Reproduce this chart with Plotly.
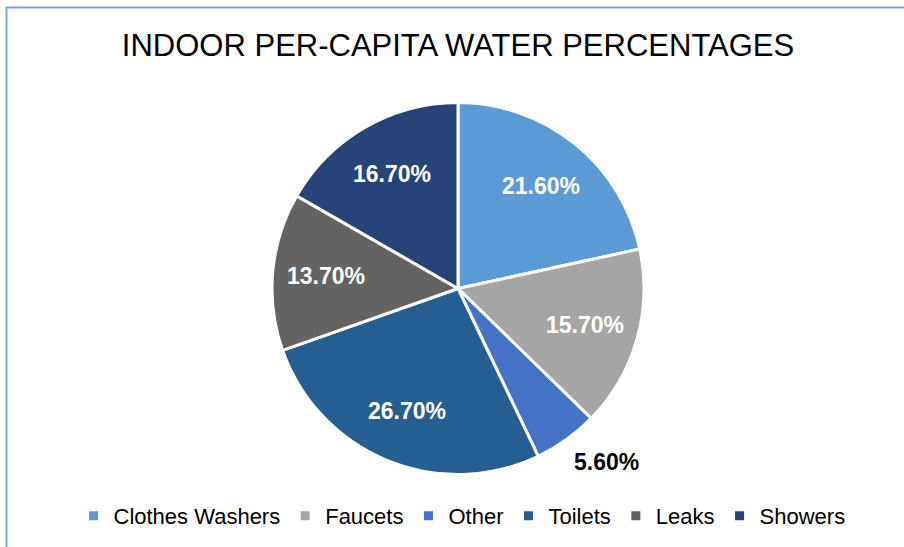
import math
import plotly.graph_objects as go

categories = ["Clothes Washers", "Faucets", "Other", "Toilets", "Leaks", "Showers"]
values = [21.6, 15.7, 5.6, 26.7, 13.7, 16.7]
colors = ["#5B9BD5", "#A5A5A5", "#4472C4", "#255E91", "#636363", "#264478"]
title_text = "INDOOR PER-CAPITA WATER PERCENTAGES"

W, H = 904, 547
cx, cy, R = 458, 288.5, 186
FONT = "Liberation Sans"

total = sum(values)
# small slices get their label outside the pie, the rest inside
is_outside = [v / total < 0.08 for v in values]

fig = go.Figure(go.Pie(
    labels=categories,
    values=values,
    sort=False,
    direction="clockwise",
    rotation=0,
    marker=dict(colors=colors, line=dict(color="white", width=3)),
    textinfo="none",
    domain=dict(x=[(cx - R) / W, (cx + R) / W], y=[1 - (cy + R) / H, 1 - (cy - R) / H]),
    hoverinfo="label+percent",
))

# data labels placed along each slice's mid-angle
annotations = []
cum = 0.0
for v, o in zip(values, is_outside):
    mid = (cum + v / 2) / total * 2 * math.pi
    cum += v
    sx, sy = math.sin(mid), -math.cos(mid)
    if o:
        r = 1.05 * R
        xa = "left" if sx >= 0 else "right"
        ya = "top" if sy >= 0 else "bottom"
        col = "black"
    else:
        r = 0.71 * R
        xa, ya = "center", "middle"
        col = "white"
    px = cx + r * sx
    py = cy + r * sy
    annotations.append(dict(
        x=px / W, y=1 - py / H, xref="paper", yref="paper",
        text=f"{v:.2f}%", showarrow=False, xanchor=xa, yanchor=ya,
        font=dict(family=FONT, size=23, color=col, weight="bold"),
    ))

fig.update_layout(
    width=W, height=H,
    margin=dict(l=0, r=0, t=0, b=0),
    paper_bgcolor="white",
    plot_bgcolor="white",
    title=dict(text=title_text, x=458 / W, xanchor="center", y=1 - 45 / H, yanchor="middle",
               font=dict(family=FONT, size=31, color="black")),
    showlegend=True,
    legend=dict(orientation="h", x=462 / W, xanchor="center", y=1 - 516 / H, yanchor="middle",
                font=dict(family=FONT, size=22, color="black"),
                traceorder="normal"),
    annotations=annotations,
    shapes=[dict(type="rect", xref="paper", yref="paper",
                 x0=6.5 / W, x1=1.1, y0=-0.1, y1=1 - 7.5 / H,
                 line=dict(color="#7AA6DC", width=2), fillcolor="rgba(0,0,0,0)", layer="below")],
)

fig.write_html("out.html", config={"displayModeBar": False},
               post_script="document.body.style.margin='0px';")
